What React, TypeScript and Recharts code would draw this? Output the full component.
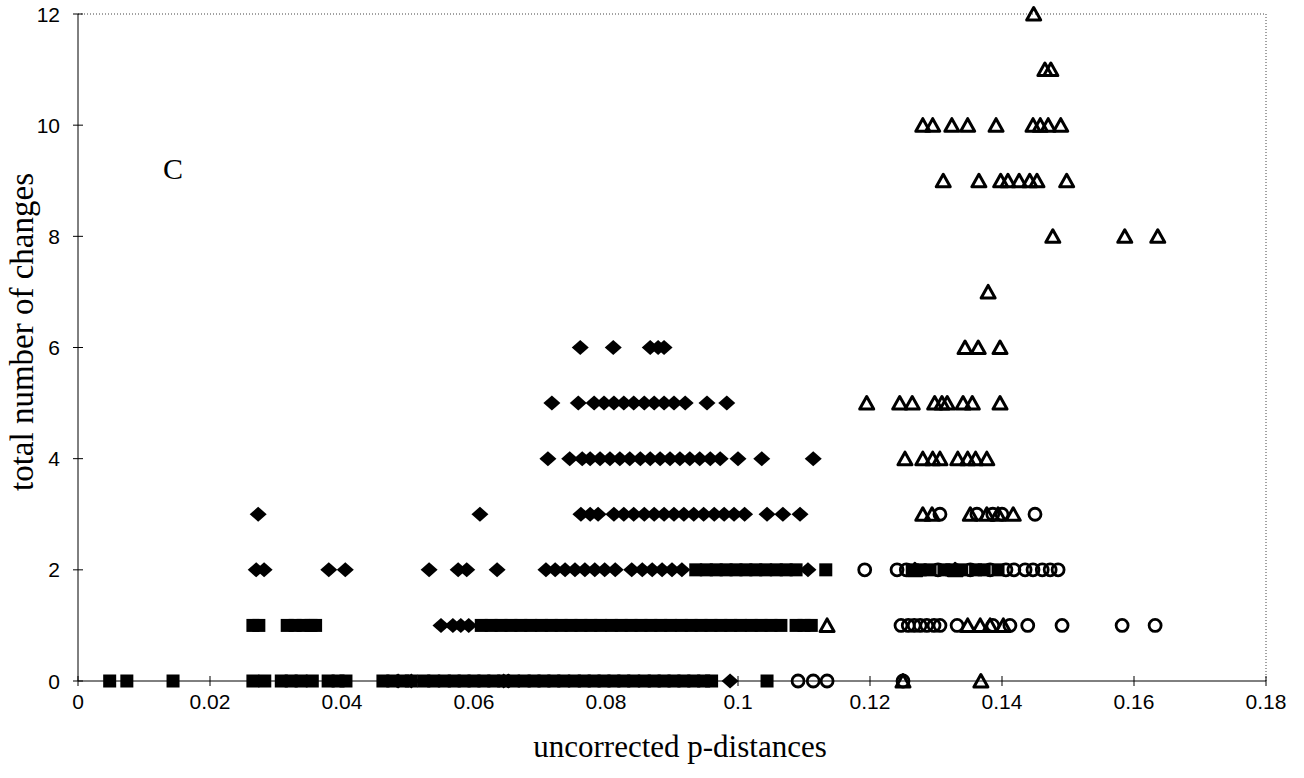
import React from "react";
import { ScatterChart, Scatter, XAxis, YAxis, ReferenceLine, ReferenceDot } from "recharts";

// axis ticks
const xTicks = [0, 0.02, 0.04, 0.06, 0.08, 0.1, 0.12, 0.14, 0.16, 0.18];
const yTicks = [0, 2, 4, 6, 8, 10, 12];

// [p-distance, number of changes]
const squares: [number, number][] = [
	[0.0048, 0], [0.0074, 0], [0.0144, 0], [0.0265, 0], [0.0283, 0], [0.0308, 0], [0.0323, 0],
	[0.0338, 0], [0.0355, 0], [0.0379, 0], [0.0394, 0], [0.0406, 0], [0.0462, 0], [0.0477, 0],
	[0.0492, 0], [0.0505, 0], [0.0524, 0], [0.0539, 0], [0.0555, 0], [0.057, 0], [0.0585, 0],
	[0.06, 0], [0.0615, 0], [0.063, 0], [0.0645, 0], [0.066, 0], [0.0676, 0], [0.0691, 0],
	[0.0706, 0], [0.0721, 0], [0.0736, 0], [0.0752, 0], [0.0767, 0], [0.0782, 0], [0.0797, 0],
	[0.0812, 0], [0.0827, 0], [0.0842, 0], [0.0858, 0], [0.0873, 0], [0.0888, 0], [0.0903, 0],
	[0.0918, 0], [0.0933, 0], [0.0948, 0], [0.096, 0], [0.1044, 0],
	[0.0265, 1], [0.0274, 1], [0.0317, 1], [0.0329, 1], [0.0341, 1], [0.0353, 1], [0.036, 1],
	[0.0611, 1], [0.0626, 1], [0.0641, 1], [0.0656, 1], [0.0671, 1], [0.0686, 1], [0.0702, 1],
	[0.0717, 1], [0.0732, 1], [0.0747, 1], [0.0762, 1], [0.0777, 1], [0.0792, 1], [0.0808, 1],
	[0.0823, 1], [0.0838, 1], [0.0853, 1], [0.0868, 1], [0.0883, 1], [0.0898, 1], [0.0914, 1],
	[0.0929, 1], [0.0944, 1], [0.0959, 1], [0.0974, 1], [0.0989, 1], [0.1004, 1], [0.102, 1],
	[0.1035, 1], [0.105, 1], [0.1065, 1], [0.1088, 1], [0.11, 1], [0.1111, 1],
	[0.0936, 2], [0.0952, 2], [0.0967, 2], [0.0982, 2], [0.0997, 2], [0.1012, 2], [0.1027, 2],
	[0.1042, 2], [0.1058, 2], [0.1073, 2], [0.1088, 2], [0.1133, 2],
	[0.1264, 2], [0.1276, 2], [0.1291, 2], [0.1312, 2], [0.1324, 2], [0.1339, 2], [0.136, 2],
	[0.1373, 2], [0.1394, 2],
];

const diamonds: [number, number][] = [
	[0.0485, 0], [0.0505, 0], [0.0645, 0], [0.0652, 0], [0.0988, 0],
	[0.055, 1], [0.0568, 1], [0.058, 1], [0.0592, 1],
	[0.027, 2], [0.0282, 2], [0.038, 2], [0.0405, 2], [0.0532, 2], [0.0576, 2], [0.0589, 2],
	[0.0635, 2], [0.0709, 2], [0.0723, 2], [0.0738, 2], [0.0753, 2], [0.0768, 2], [0.0783, 2],
	[0.0798, 2], [0.0814, 2], [0.0839, 2], [0.0855, 2], [0.087, 2], [0.0885, 2], [0.09, 2],
	[0.0915, 2], [0.1106, 2],
	[0.0273, 3], [0.0609, 3], [0.0762, 3], [0.0776, 3], [0.0788, 3], [0.0812, 3], [0.0827, 3],
	[0.0842, 3], [0.0858, 3], [0.0873, 3], [0.0888, 3], [0.0903, 3], [0.0918, 3], [0.0933, 3],
	[0.0948, 3], [0.0964, 3], [0.0979, 3], [0.0994, 3], [0.101, 3], [0.1044, 3], [0.1068, 3],
	[0.1094, 3],
	[0.0712, 4], [0.0745, 4], [0.0764, 4], [0.0776, 4], [0.0791, 4], [0.0806, 4], [0.0821, 4],
	[0.0836, 4], [0.0852, 4], [0.0867, 4], [0.0882, 4], [0.0897, 4], [0.0912, 4], [0.0927, 4],
	[0.0942, 4], [0.0958, 4], [0.0973, 4], [0.1, 4], [0.1036, 4], [0.1114, 4],
	[0.0718, 5], [0.0758, 5], [0.0782, 5], [0.0797, 5], [0.0812, 5], [0.0827, 5], [0.0842, 5],
	[0.0858, 5], [0.0873, 5], [0.0888, 5], [0.0903, 5], [0.092, 5], [0.0953, 5], [0.0983, 5],
	[0.0761, 6], [0.0811, 6], [0.0867, 6], [0.0879, 6], [0.0888, 6],
];

const circles: [number, number][] = [
	[0.1091, 0], [0.1114, 0], [0.1135, 0], [0.125, 0],
	[0.1247, 1], [0.1258, 1], [0.1267, 1], [0.1276, 1], [0.1286, 1], [0.1297, 1], [0.1306, 1],
	[0.1332, 1], [0.1386, 1], [0.1412, 1], [0.1439, 1], [0.1491, 1], [0.1582, 1], [0.1632, 1],
	[0.1192, 2], [0.1241, 2], [0.1255, 2], [0.1303, 2], [0.1352, 2], [0.1382, 2], [0.1406, 2],
	[0.1418, 2], [0.1435, 2], [0.1447, 2], [0.1461, 2], [0.1473, 2], [0.1485, 2],
	[0.1306, 3], [0.1362, 3], [0.1386, 3], [0.14, 3], [0.145, 3],
];

const triangles: [number, number][] = [
	[0.125, 0], [0.1368, 0],
	[0.1135, 1], [0.1348, 1], [0.1367, 1], [0.1382, 1], [0.1402, 1],
	[0.1268, 2], [0.1329, 2],
	[0.128, 3], [0.1294, 3], [0.1352, 3], [0.1377, 3], [0.1394, 3], [0.1417, 3],
	[0.1253, 4], [0.128, 4], [0.1295, 4], [0.1306, 4], [0.1333, 4], [0.1348, 4], [0.136, 4],
	[0.1377, 4],
	[0.1195, 5], [0.1245, 5], [0.1264, 5], [0.1298, 5], [0.1309, 5], [0.1317, 5], [0.1341, 5],
	[0.1355, 5], [0.1397, 5],
	[0.1344, 6], [0.1364, 6], [0.1397, 6],
	[0.1379, 7],
	[0.1477, 8], [0.1586, 8], [0.1636, 8],
	[0.1311, 9], [0.1365, 9], [0.1398, 9], [0.1409, 9], [0.1426, 9], [0.1442, 9], [0.1453, 9],
	[0.1498, 9],
	[0.128, 10], [0.1295, 10], [0.1324, 10], [0.1348, 10], [0.1391, 10], [0.1447, 10],
	[0.1458, 10], [0.147, 10], [0.1489, 10],
	[0.1465, 11], [0.1474, 11],
	[0.1448, 12],
];

const toPts = (arr: [number, number][]) => arr.map(([x, y]) => ({ x, y }));

const sans = "'Liberation Sans', Arial, sans-serif";
const serif = "'Liberation Serif', 'Times New Roman', serif";

const Diamond = (p: any) => (
	<path d={`M${p.cx},${p.cy - 7.5}L${p.cx + 8.5},${p.cy}L${p.cx},${p.cy + 7.5}L${p.cx - 8.5},${p.cy}Z`} fill="#000" />
);
const Square = (p: any) => <rect x={p.cx - 6.5} y={p.cy - 6.5} width={13} height={13} fill="#000" />;
const Circle = (p: any) => <circle cx={p.cx} cy={p.cy} r={6} fill="none" stroke="#000" strokeWidth={2.8} />;
const Triangle = (p: any) => (
	<path
		d={`M${p.cx},${p.cy - 6.5}L${p.cx + 7},${p.cy + 6}L${p.cx - 7},${p.cy + 6}Z`}
		fill="none"
		stroke="#000"
		strokeWidth={3}
		strokeLinejoin="round"
	/>
);

const XTick = ({ x, y, payload }: any) => (
	<g>
		<line x1={x} x2={x} y1={y - 5} y2={y + 5} stroke="#000" />
		<text x={x} y={y + 28} textAnchor="middle" fontFamily={sans} fontSize={21} fill="#000">
			{payload.value}
		</text>
	</g>
);

const YTick = ({ x, y, payload }: any) => (
	<g>
		<line x1={x - 5} x2={x + 5} y1={y} y2={y} stroke="#000" />
		<text x={x - 18} y={y + 7.5} textAnchor="end" fontFamily={sans} fontSize={21} fill="#000">
			{payload.value}
		</text>
	</g>
);

export default function App() {
	return (
		<div style={{ position: "absolute", left: 0, top: 0, background: "#fff" }}>
			<ScatterChart width={1304} height={778} margin={{ top: 14, right: 38, bottom: 0, left: 0 }}>
				<XAxis
					type="number"
					dataKey="x"
					domain={[0, 0.18]}
					ticks={xTicks}
					tick={<XTick />}
					tickLine={false}
					tickSize={0}
					tickMargin={0}
					height={97}
					stroke="#000"
					label={{
						content: () => (
							<text x={680} y={757} textAnchor="middle" fontFamily={serif} fontSize={31} fill="#000">
								uncorrected p-distances
							</text>
						),
					}}
				/>
				<YAxis
					type="number"
					dataKey="y"
					domain={[0, 12]}
					ticks={yTicks}
					tick={<YTick />}
					tickLine={false}
					tickSize={0}
					tickMargin={0}
					width={78}
					stroke="#000"
					label={{
						content: () => (
							<text
								x={33}
								y={332}
								transform="rotate(-90 33 332)"
								textAnchor="middle"
								fontFamily={serif}
								fontSize={33}
								fill="#000">
								total number of changes
							</text>
						),
					}}
				/>
				<ReferenceLine y={12} stroke="#444" strokeDasharray="1 2" />
				<ReferenceLine x={0.18} stroke="#444" strokeDasharray="1 2" />
				<ReferenceDot
					x={0.0144}
					y={9.23}
					r={0}
					fill="none"
					stroke="none"
					label={{ value: "C", position: "center", fontFamily: serif, fontSize: 30, fill: "#000" }}
				/>
				<Scatter data={toPts(squares)} shape={Square} isAnimationActive={false} />
				<Scatter data={toPts(diamonds)} shape={Diamond} isAnimationActive={false} />
				<Scatter data={toPts(circles)} shape={Circle} isAnimationActive={false} />
				<Scatter data={toPts(triangles)} shape={Triangle} isAnimationActive={false} />
			</ScatterChart>
		</div>
	);
}
